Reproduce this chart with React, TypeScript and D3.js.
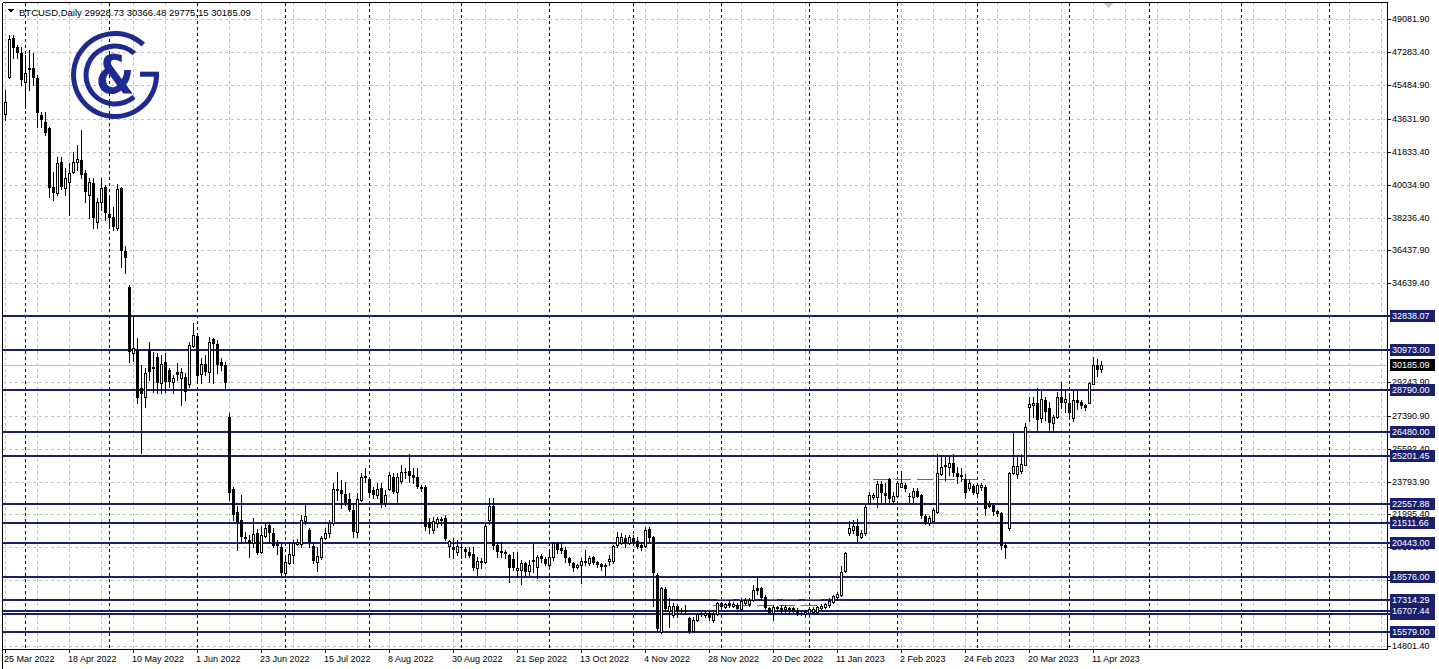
import React from 'react';
import * as d3 from 'd3';

// ---- data ----
const opens = [
43902,45943,48043,47584,47222,45669,46435,46402,45855,43847,43481,43120,39925,39564,41293,39838,40165,40746,41260,41385,
40657,39472,40110,38010,39105,39925,38415,38284,37683,39838,36408,34455,30850,30993,28932,28440,30993,30080,30627,29171,
30353,29899,29259,29806,29444,29532,29116,31229,31775,29663,30211,29806,31593,31302,30353,30173,27311,23373,22149,21694,
20745,20600,20452,21000,19960,20818,21420,20965,20381,20234,18811,19325,19780,20381,20381,21656,21147,20271,19413,19686,
20692,21000,21512,23373,23335,23116,22826,22241,21054,22788,24100,23920,23335,23060,23427,22607,23373,24029,23243,23844,
24336,24390,24156,24063,23482,23482,21601,21147,21512,21732,21786,20271,20234,19960,20234,20089,19960,19835,19050,19405,
19413,21694,22460,20327,20015,19960,19780,19543,18959,18959,19325,18920,19506,19140,19725,19543,19233,19653,20420,20147,
20050,19598,19325,19105,19233,19468,19358,19653,19413,19288,19233,19468,19468,20327,20452,20692,20452,20692,20545,20327,
20271,21186,20747,18686,15583,17902,16735,16498,16990,16771,16771,16316,15645,16224,16590,16498,16622,16224,16552,17136,
16918,17170,16990,17044,16810,17170,17100,17318,17957,17957,17501,16864,16622,16918,16864,16808,16864,16864,16771,16622,
16552,16622,16680,16680,16864,16918,17044,17225,17465,17592,18920,20964,21147,21366,20781,20965,22607,22930,22971,23663,
23153,23920,22750,23005,23516,23610,23005,22971,23297,23061,21913,21546,21656,22150,24210,24702,24610,24826,24280,24155,
23920,23427,23554,23188,23481,23516,22569,22514,22200,22093,20327,21240,24270,24210,24390,24702,27900,27984,28075,27257,
28258,27793,27016,27345,28406,28148,28111,27257,28258,28166,27984,28111,29134,30173,29928.73];
const highs = [
45215,48224,48224,47677,47584,47130,47403,47222,46035,43995,43995,43207,40746,41567,41567,40930,41205,41840,42206,43027,
40839,40384,40384,39290,40384,40019,39290,38831,40057,39925,36698,34548,32780,31633,30173,29992,31447,30900,30809,30720,
30809,29992,29626,30265,29992,29718,31447,32453,31814,30539,30720,31720,31633,31540,30539,30353,27530,23516,22460,23061,
21054,20874,21786,21186,21366,21546,21601,21240,20600,20420,19598,20507,20600,20638,21967,22569,21240,20507,20234,20818,
21240,21694,23734,24336,23882,23789,23155,22607,23155,24281,24522,24029,23516,23700,23700,23335,24336,24281,24247,24702,
24522,25304,24522,24522,23610,23610,21786,21875,21875,21875,21967,20600,20690,20600,20507,20234,20234,20234,19653,19598,
21546,22880,22880,20507,20507,20050,19835,19960,19960,19506,19413,19506,20452,19780,19835,19686,19960,20507,20507,20507,
20234,19686,19413,19288,19598,20050,19725,19725,19468,19358,19325,19780,20327,21054,20965,20874,20874,20874,20745,20507,
21328,21328,20818,18778,18044,18044,17410,17170,17100,16864,17044,16371,16371,16622,16680,16680,16680,16680,17225,17225,
17170,17318,17225,17136,17410,17410,17428,18138,18504,18044,17592,16950,17044,16990,17044,17044,16950,16950,16864,16733,
16771,16918,16918,16990,17100,17170,17410,17592,17775,19160,19960,21656,21694,21732,21147,22514,23243,23188,23844,23844,
23700,23975,23243,23844,24390,23700,23155,23427,23427,23116,22022,21913,22333,25304,25250,25123,25195,25304,24610,24522,
24210,23920,23663,23734,23734,23610,22750,22640,22240,22150,20452,24336,26436,25195,25304,27016,28439,28439,28898,28843,
28439,28134,27437,28713,29226,28843,28625,28805,28805,28258,28039,29259,30594,30484,30366.48];
const lows = [
43574,45855,46949,46949,45489,44214,45215,45489,43207,43207,42753,39378,39198,39472,39787,39472,38377,40657,40839,40400,
39105,38196,37650,37650,38651,38104,37650,37557,37557,35549,35188,30353,30400,28077,25341,27892,29352,28713,28624,28624,
28713,28987,28624,29352,27984,28258,28987,31173,29171,29171,29626,29259,29171,29718,29899,28805,22788,21694,20053,20420,
20507,19653,20234,19835,19904,20745,20420,20234,19835,18686,18740,19288,19325,20327,20234,21475,20234,19325,18920,19543,
20638,20781,21420,22788,22333,22514,22205,20781,20781,22750,23789,23116,22880,22880,22420,22460,23335,23155,22694,23700,
23975,23789,23700,23427,23297,21147,20965,20965,21328,21420,20600,19653,19598,19780,19598,19686,19686,18959,18686,19050,
19325,21475,20089,19686,19686,19598,18318,18959,18593,18193,18686,18686,18866,18505,19413,19233,19105,19506,19871,19871,
19413,19233,18920,19050,18230,19233,19233,19288,19105,18959,18686,19233,19325,20234,20381,20234,20381,20381,20147,20050,
20234,20562,16972,15638,15530,16771,15857,16404,16404,16590,16552,15497,15583,16186,16442,16404,16224,16131,16498,16864,
16864,16918,16918,16733,16733,17100,16990,17280,17672,17318,16827,16552,16224,16733,16622,16680,16680,16590,16498,16498,
16371,16552,16590,16622,16808,16864,16950,17170,17410,17537,18866,20874,21000,20507,20692,20874,22569,22825,22388,22694,
22694,22694,22569,22971,23481,23297,22694,22694,22935,21787,21475,21420,21656,22058,24155,23882,24155,24100,23700,23844,
22880,23335,23116,23116,23335,21967,22388,21967,21913,20089,19598,21147,24210,23975,24281,24702,27125,27345,26616,27071,
27170,26524,26524,27257,27803,27618,27345,27125,27750,27803,27710,28075,29134,29587,29775.15];
const closes = [
44575,48005,47496,47222,45762,46128,46309,45855,43940,43574,42847,39838,39564,41205,39925,40384,40657,41293,41440,40565,
39651,40165,38196,39105,39838,38470,38230,37737,39800,36408,36042,30900,31100,28350,28569,29718,29800,29954,29171,30211,
29259,29259,29478,29626,29806,28713,31267,31814,29587,30211,29806,31447,31302,30173,30134,29171,23188,21967,21602,20745,
20635,20452,20928,19904,20874,21240,21000,20271,20271,18778,19416,19835,20452,20507,21694,21912,20507,19468,19725,20692,
20965,21512,23373,23296,23116,22607,22241,21054,22826,24063,23975,23188,23079,23373,22607,23061,24156,23243,24029,24336,
24247,24110,23975,23482,23373,21328,21240,21656,21732,21656,20638,20524,20050,20271,20162,19960,19725,19050,19468,19468,
21366,22444,20271,19960,19873,19835,19050,19050,19050,19325,18866,19233,19413,19686,19543,19288,19653,20420,20050,20015,
19598,19325,19050,19233,19468,19325,19598,19358,19233,19105,19105,19543,20271,20781,20781,20452,20745,20507,20234,20147,
21147,20692,18778,15715,17957,16808,17009,16990,16735,16735,16680,15583,16224,16552,16498,16590,16316,16552,17136,16918,
17100,16990,17100,16810,17280,17318,17318,17865,17828,17410,16864,16622,16950,16808,16771,16918,16771,16680,16552,16552,
16640,16808,16808,16918,16990,17100,17280,17537,17647,18866,19871,21240,21366,20818,21000,22420,23061,23061,23663,23153,
23005,22826,23005,23734,23734,23373,22930,23297,22971,21913,21546,21787,22240,24248,24610,24575,24795,24248,24063,24030,
23188,23700,23188,23610,23610,22278,22420,22150,22022,20271,20147,24248,24648,24648,24757,26765,28039,28112,27164,28295,
27618,27016,27345,28439,28075,28335,27530,28258,28111,27930,27803,29171,30173,29899,30185.09];

const dateLabels = ['25 Mar 2022','18 Apr 2022','10 May 2022','1 Jun 2022','23 Jun 2022','15 Jul 2022','8 Aug 2022',
  '30 Aug 2022','21 Sep 2022','13 Oct 2022','4 Nov 2022','28 Nov 2022','20 Dec 2022','11 Jan 2023','2 Feb 2023',
  '24 Feb 2023','20 Mar 2023','11 Apr 2023'];
const labelEvery = 16;
const monthStarts = [5, 26, 48, 70, 91, 114, 136, 157, 179, 201, 223, 243, 266, 286, 309, 331];
const priceTicks = [49081.90, 47283.40, 45484.90, 43631.90, 41833.40, 40034.90, 38236.40, 36437.90, 34639.40,
  32840.90, 31042.40, 29243.90, 27390.90, 25592.40, 23793.90, 21995.40, 20196.90, 18398.40, 16599.90, 14801.40];
const levels = [32838.07, 30973.00, 28790.00, 26480.00, 25201.45, 22557.88, 21511.66, 20443.00, 18576.00,
  17314.29, 16557.00, 16707.44, 15579.00];
const greenLevels = [
  { price: 23920, from: 217, to: 245 },
  { price: 17356, from: 178, to: 205 },
  { price: 17044, from: 177, to: 204 },
];
const symbol = 'BTCUSD,Daily';
const ohlcHeader = [29928.73, 30366.48, 29775.15, 30185.09];
const lastPrice = 30185.09;

const NAVY = '#1a1f6e';
const LOGO = '#1e2a8f';
const FONT = '"Liberation Sans", Arial, sans-serif';

export default function App() {
  const W = 1439, H = 669;
  const left = 3, right = 1387, top = 3, bottom = 649;
  const n = opens.length;
  const x = d3.scaleLinear().domain([0, 1]).range([5, 9]);
  const y = d3.scaleLinear().domain([14801.4, 49081.9]).range([646.0, 19.3]);
  const ry = (v: number) => Math.round(y(v));

  const gridX: number[] = [];
  for (let i = 0; x(i) < right; i += 8) gridX.push(x(i));

  const logoCx = 115, logoCy = 75;
  const deg = Math.PI / 180;
  const outerArc = d3.arc()({ innerRadius: 39, outerRadius: 44, startAngle: 86 * deg, endAngle: 403 * deg } as any) as string;
  const innerArc = d3.arc()({ innerRadius: 26.5, outerRadius: 31.5, startAngle: 139 * deg, endAngle: 402 * deg } as any) as string;

  const candles = d3.range(n).map((i) => {
    const cx = Math.round(x(i));
    const o = ry(opens[i]), c = ry(closes[i]), h = ry(highs[i]), l = ry(lows[i]);
    const up = closes[i] >= opens[i];
    const t = Math.min(o, c), b = Math.max(o, c);
    return (
      <g key={i}>
        <line x1={cx + 0.5} x2={cx + 0.5} y1={h} y2={l + 1} stroke="#000" strokeWidth={1} />
        {up ? (
          <rect x={cx - 0.5} y={t + 0.5} width={2} height={Math.max(b - t, 1)} fill="#fff" stroke="#000" strokeWidth={1} />
        ) : (
          <rect x={cx - 1} y={t} width={3} height={Math.max(b - t, 1)} fill="#000" />
        )}
      </g>
    );
  });

  return (
    <svg width={W} height={H} style={{ position: 'absolute', left: 0, top: 0, background: '#fff' }}
      fontFamily={FONT} shapeRendering="crispEdges">
      <rect x={0} y={0} width={W} height={H} fill="#fff" />
      <defs>
        <clipPath id="plot"><rect x={left} y={top} width={right - left} height={bottom - top} /></clipPath>
      </defs>
      <g clipPath="url(#plot)">
        {/* horizontal grid */}
        {priceTicks.map((p, k) => (
          <line key={'hg' + k} x1={left} x2={right} y1={ry(p) + 0.5} y2={ry(p) + 0.5} stroke="#c0c0c0" strokeDasharray="3,3" />
        ))}
        {/* vertical grid */}
        {gridX.map((gx, k) => (
          <line key={'vg' + k} x1={gx + 0.5} x2={gx + 0.5} y1={top} y2={bottom} stroke="#c0c0c0" strokeDasharray="3,3" />
        ))}
        {/* month separators */}
        {monthStarts.map((m, k) => (
          <line key={'ms' + k} x1={x(m) + 0.5} x2={x(m) + 0.5} y1={top} y2={bottom} stroke="#000" strokeDasharray="3,3" />
        ))}
        {/* logo */}
        <g transform={`translate(${logoCx},${logoCy})`} shapeRendering="geometricPrecision">
          <path d={outerArc} fill={LOGO} />
          <path d={innerArc} fill={LOGO} />
          <rect x={25} y={-3.3} width={19} height={5} fill={LOGO} />
          <text x={0} y={18} textAnchor="middle" fontSize={54} fontWeight="bold" fill={LOGO}
            transform="scale(0.82,1)" fontFamily='"DejaVu Sans", sans-serif'>&amp;</text>
        </g>
        {/* bid line */}
        <line x1={left} x2={right} y1={ry(lastPrice) + 0.5} y2={ry(lastPrice) + 0.5} stroke="#c0c0c0" />
        {/* navy levels */}
        {levels.map((p, k) => (
          <line key={'lv' + k} x1={left} x2={right} y1={ry(p)} y2={ry(p)} stroke={NAVY} strokeWidth={2} />
        ))}
        {/* green dashed levels */}
        {greenLevels.map((g, k) => (
          <line key={'gl' + k} x1={x(g.from)} x2={x(g.to)} y1={ry(g.price) + 0.5} y2={ry(g.price) + 0.5}
            stroke="#4a8c1c" strokeWidth={1} strokeDasharray="16,6" />
        ))}
        {candles}
      </g>
      {/* frame */}
      <line x1={left - 0.5} x2={left - 0.5} y1={top} y2={H} stroke="#000" />
      <line x1={left} x2={right} y1={top - 0.5} y2={top - 0.5} stroke="#000" />
      <line x1={right + 0.5} x2={right + 0.5} y1={top - 1} y2={bottom + 1} stroke="#000" />
      <line x1={left} x2={right + 1} y1={bottom + 0.5} y2={bottom + 0.5} stroke="#000" />
      {/* chart shift marker */}
      <polygon points="1104,3 1113,3 1108.5,8" fill="#c8c8c8" />
      {/* header */}
      <polygon points="8,9 14,9 11,13" fill="#000" />
      <text x={19} y={16} fontSize={9.5} fill="#000">{symbol}  {ohlcHeader.map((v) => v.toFixed(2)).join(' ')}</text>
      {/* y axis ticks & labels */}
      {priceTicks.map((p, k) => (
        <g key={'yt' + k}>
          <line x1={right} x2={right + 4} y1={ry(p) + 0.5} y2={ry(p) + 0.5} stroke="#000" />
          <text x={1392} y={ry(p)} dy="0.35em" fontSize={9} fill="#000">{p.toFixed(2)}</text>
        </g>
      ))}
      {levels.map((p, k) => (
        <g key={'ll' + k}>
          <line x1={right} x2={1390} y1={ry(p)} y2={ry(p)} stroke={NAVY} strokeWidth={2} />
          <rect x={1390} y={ry(p) - 6} width={45} height={12} fill={NAVY} />
          <text x={1392} y={ry(p)} dy="0.35em" fontSize={9} fill="#fff">{p.toFixed(2)}</text>
        </g>
      ))}
      <rect x={1390} y={ry(lastPrice) - 6} width={45} height={12} fill="#000" />
      <text x={1392} y={ry(lastPrice)} dy="0.35em" fontSize={9} fill="#fff">{lastPrice.toFixed(2)}</text>
      {/* x axis labels */}
      {dateLabels.map((d, k) => {
        const px = Math.round(x(k * labelEvery));
        return (
          <g key={'xl' + k}>
            <line x1={px + 0.5} x2={px + 0.5} y1={bottom} y2={bottom + 4} stroke="#000" />
            <text x={px - 1} y={662} fontSize={9} fill="#000">{d}</text>
          </g>
        );
      })}
    </svg>
  );
}
